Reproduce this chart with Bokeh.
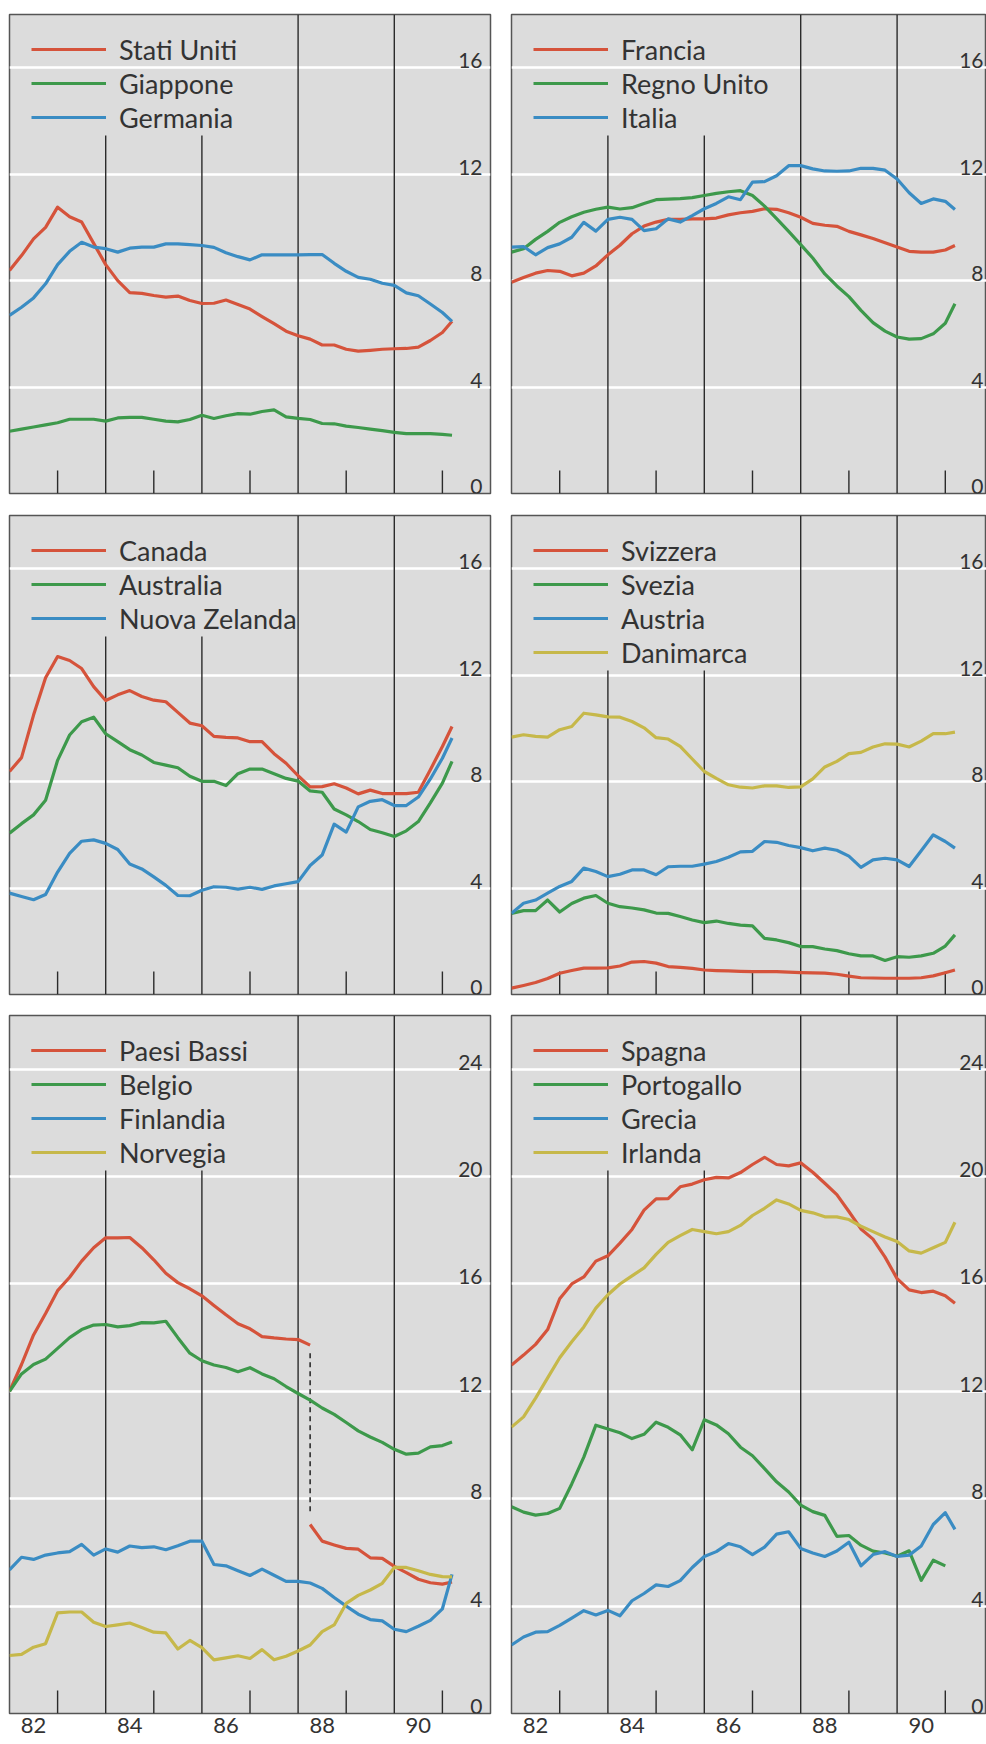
from bokeh.plotting import figure
from bokeh.layouts import column, row
from bokeh.models import Legend, LegendItem, FixedTicker
from bokeh.core.properties import value
from bokeh.embed import file_html
from bokeh.resources import INLINE

# ---------------- data (quarterly readings, 1982 Q1 .. 1991) ----------------
dates = [1982 + q / 4 for q in range(37)] + [1991.2]

stati_uniti = [8.38, 8.94, 9.57, 10.0, 10.76, 10.4, 10.2, 9.4, 8.6, 8.0, 7.55, 7.52, 7.44, 7.38, 7.42, 7.25,
               7.14, 7.15, 7.27, 7.1, 6.93, 6.65, 6.38, 6.1, 5.93, 5.8, 5.58, 5.58, 5.42, 5.35, 5.38, 5.42,
               5.44, 5.45, 5.5, 5.75, 6.05, 6.47]
giappone = [2.34, 2.42, 2.5, 2.58, 2.66, 2.79, 2.79, 2.79, 2.72, 2.84, 2.86, 2.86, 2.79, 2.72, 2.69, 2.78,
            2.94, 2.82, 2.92, 3.0, 2.98, 3.08, 3.14, 2.88, 2.82, 2.78, 2.63, 2.62, 2.53, 2.48, 2.42, 2.36,
            2.3, 2.25, 2.25, 2.25, 2.22, 2.19]
germania = [6.69, 7.0, 7.35, 7.88, 8.6, 9.1, 9.44, 9.26, 9.2, 9.07, 9.22, 9.26, 9.26, 9.38, 9.38, 9.35,
            9.32, 9.25, 9.05, 8.9, 8.78, 8.97, 8.97, 8.97, 8.97, 8.98, 8.98, 8.65, 8.35, 8.12, 8.05, 7.9,
            7.82, 7.54, 7.43, 7.12, 6.8, 6.47]

francia = [7.94, 8.12, 8.28, 8.38, 8.35, 8.18, 8.28, 8.55, 8.97, 9.33, 9.76, 10.05, 10.2, 10.3, 10.3, 10.32,
           10.32, 10.35, 10.47, 10.55, 10.6, 10.7, 10.68, 10.55, 10.38, 10.15, 10.08, 10.04, 9.85, 9.72, 9.58,
           9.42, 9.26, 9.1, 9.07, 9.07, 9.15, 9.32]
regno_unito = [9.07, 9.2, 9.55, 9.85, 10.19, 10.4, 10.57, 10.68, 10.76, 10.69, 10.74, 10.9, 11.04, 11.06,
               11.08, 11.12, 11.2, 11.28, 11.34, 11.38, 11.2, 10.8, 10.33, 9.85, 9.35, 8.85, 8.25, 7.8, 7.4,
               6.88, 6.42, 6.1, 5.88, 5.8, 5.82, 6.0, 6.4, 7.13]
italia = [9.26, 9.28, 8.97, 9.24, 9.38, 9.63, 10.19, 9.86, 10.3, 10.38, 10.3, 9.88, 9.95, 10.32, 10.2, 10.44,
          10.7, 10.9, 11.15, 11.04, 11.7, 11.72, 11.94, 12.32, 12.32, 12.2, 12.12, 12.11, 12.12, 12.22, 12.22,
          12.15, 11.82, 11.3, 10.9, 11.07, 10.98, 10.67]

canada = [8.38, 8.9, 10.5, 11.9, 12.7, 12.55, 12.25, 11.57, 11.05, 11.26, 11.42, 11.2, 11.06, 11.0, 10.6, 10.2,
          10.1, 9.7, 9.66, 9.64, 9.5, 9.5, 9.05, 8.69, 8.22, 7.8, 7.81, 7.92, 7.76, 7.54, 7.68, 7.55, 7.55,
          7.55, 7.6, 8.45, 9.32, 10.07]
australia = [6.06, 6.42, 6.75, 7.3, 8.8, 9.75, 10.25, 10.42, 9.8, 9.5, 9.2, 9.0, 8.72, 8.62, 8.52, 8.2, 8.01,
             8.01, 7.85, 8.3, 8.47, 8.47, 8.3, 8.12, 8.02, 7.65, 7.6, 6.97, 6.75, 6.5, 6.2, 6.08, 5.94, 6.15,
             6.5, 7.2, 7.94, 8.76]
nuova_zelanda = [3.81, 3.68, 3.56, 3.76, 4.6, 5.3, 5.76, 5.81, 5.68, 5.45, 4.9, 4.72, 4.42, 4.1, 3.72, 3.71,
                 3.92, 4.05, 4.03, 3.96, 4.03, 3.95, 4.08, 4.16, 4.24, 4.85, 5.24, 6.4, 6.1, 7.05, 7.26, 7.32,
                 7.1, 7.1, 7.42, 8.1, 8.88, 9.64]

svizzera = [0.24, 0.34, 0.45, 0.6, 0.8, 0.9, 0.99, 0.99, 1.0, 1.07, 1.22, 1.24, 1.18, 1.05, 1.02, 0.98, 0.92,
            0.9, 0.89, 0.87, 0.86, 0.86, 0.86, 0.84, 0.82, 0.81, 0.8, 0.76, 0.69, 0.63, 0.62, 0.61, 0.61, 0.61,
            0.63, 0.7, 0.82, 0.92]
svezia = [3.05, 3.15, 3.15, 3.55, 3.1, 3.42, 3.62, 3.72, 3.43, 3.3, 3.25, 3.18, 3.06, 3.05, 2.93, 2.8, 2.7,
          2.76, 2.67, 2.61, 2.58, 2.11, 2.05, 1.95, 1.8, 1.8, 1.71, 1.65, 1.53, 1.45, 1.45, 1.28, 1.42, 1.4,
          1.45, 1.55, 1.82, 2.24]
austria = [3.05, 3.43, 3.55, 3.81, 4.06, 4.25, 4.75, 4.62, 4.43, 4.52, 4.68, 4.68, 4.5, 4.8, 4.82, 4.82, 4.9,
           5.0, 5.16, 5.36, 5.38, 5.75, 5.72, 5.6, 5.52, 5.4, 5.5, 5.42, 5.2, 4.78, 5.06, 5.12, 5.06, 4.81, 5.4,
           6.0, 5.75, 5.5]
danimarca = [9.67, 9.76, 9.7, 9.67, 9.95, 10.07, 10.57, 10.51, 10.43, 10.42, 10.26, 10.02, 9.65, 9.6, 9.32,
             8.85, 8.38, 8.12, 7.88, 7.79, 7.76, 7.84, 7.84, 7.78, 7.8, 8.1, 8.55, 8.76, 9.05, 9.1, 9.3, 9.42,
             9.41, 9.3, 9.52, 9.8, 9.8, 9.86]

# Paesi Bassi: series break in 1988 (old definition, then new definition)
paesi_bassi_old = [12.0, 13.0, 14.1, 14.9, 15.75, 16.25, 16.85, 17.35, 17.72, 17.72, 17.73, 17.35, 16.9, 16.4,
                   16.05, 15.82, 15.56, 15.2, 14.85, 14.52, 14.33, 14.04, 13.99, 13.95, 13.93, 13.72]
paesi_bassi_new = [7.04, 6.42, 6.28, 6.15, 6.12, 5.8, 5.78, 5.48, 5.25, 5.0, 4.87, 4.82, 4.9]
belgio = [12.0, 12.65, 13.0, 13.2, 13.6, 14.0, 14.3, 14.47, 14.49, 14.4, 14.45, 14.56, 14.55, 14.61, 14.0,
          13.42, 13.14, 12.98, 12.89, 12.73, 12.88, 12.65, 12.47, 12.18, 11.92, 11.67, 11.38, 11.14, 10.84,
          10.53, 10.3, 10.1, 9.84, 9.66, 9.7, 9.93, 9.98, 10.11]
finlandia = [5.35, 5.82, 5.74, 5.9, 5.98, 6.03, 6.3, 5.9, 6.13, 6.01, 6.24, 6.18, 6.21, 6.1, 6.25, 6.42, 6.42,
             5.55, 5.5, 5.32, 5.14, 5.38, 5.15, 4.92, 4.92, 4.86, 4.66, 4.32, 4.0, 3.7, 3.5, 3.45, 3.14, 3.05,
             3.25, 3.47, 3.9, 5.18]
norvegia = [2.16, 2.2, 2.47, 2.6, 3.75, 3.78, 3.78, 3.4, 3.24, 3.3, 3.37, 3.2, 3.03, 3.0, 2.4, 2.72, 2.45, 2.0,
            2.07, 2.15, 2.05, 2.38, 2.0, 2.13, 2.33, 2.55, 3.05, 3.3, 4.1, 4.4, 4.6, 4.85, 5.44, 5.44, 5.32,
            5.18, 5.1, 5.09]

spagna = [12.98, 13.35, 13.75, 14.3, 15.45, 16.0, 16.26, 16.85, 17.05, 17.52, 18.03, 18.75, 19.17, 19.18,
          19.62, 19.72, 19.88, 19.97, 19.95, 20.15, 20.45, 20.72, 20.45, 20.4, 20.51, 20.16, 19.75, 19.33, 18.7,
          18.05, 17.67, 17.0, 16.2, 15.78, 15.68, 15.73, 15.56, 15.28]
portogallo = [7.7, 7.5, 7.39, 7.45, 7.64, 8.55, 9.55, 10.74, 10.6, 10.46, 10.24, 10.4, 10.85, 10.66, 10.38,
              9.82, 10.94, 10.75, 10.42, 9.92, 9.6, 9.12, 8.63, 8.25, 7.76, 7.52, 7.38, 6.6, 6.63, 6.27, 6.05,
              5.98, 5.86, 6.06, 4.96, 5.71, 5.5]
grecia = [2.55, 2.85, 3.03, 3.05, 3.28, 3.55, 3.83, 3.67, 3.84, 3.64, 4.2, 4.47, 4.79, 4.73, 4.95, 5.44, 5.85,
          6.03, 6.33, 6.21, 5.92, 6.2, 6.68, 6.77, 6.15, 5.98, 5.85, 6.05, 6.38, 5.5, 5.92, 6.03, 5.85, 5.9,
          6.24, 7.04, 7.48, 6.86]
irlanda = [10.67, 11.05, 11.75, 12.5, 13.25, 13.85, 14.4, 15.1, 15.6, 16.0, 16.3, 16.6, 17.1, 17.55, 17.8,
           18.03, 17.95, 17.87, 17.95, 18.18, 18.55, 18.82, 19.13, 18.98, 18.74, 18.65, 18.5, 18.5, 18.4, 18.15,
           17.95, 17.75, 17.58, 17.23, 17.15, 17.35, 17.55, 18.3]

year_labels = ["82", "84", "86", "88", "90"]
divider_years = [1984, 1986, 1988, 1990]
minor_tick_years = [1983, 1985, 1987, 1989, 1991]
ticks_small = [0, 4, 8, 12, 16]
ticks_large = [0, 4, 8, 12, 16, 20, 24]

# ---------------- styling ----------------
RED = "#d5533b"
GREEN = "#3d994b"
BLUE = "#3a8cc3"
YELLOW = "#c6b84a"
BG = "#dcdcdc"
INK = "#2b2b2b"
TXT = "#333333"
FONT = "Lato"

PX_PER_YEAR = 48.2


def panel(series, left_col, y_end, y_ticks, frame_h, top_b, bot_b, x_labels=False, break_series=None):
    fw = 481 if left_col else 475
    x_end = 1992 if left_col else 1982 + fw / PX_PER_YEAR
    p = figure(x_range=(1982, x_end), y_range=(0, y_end), frame_width=fw, frame_height=frame_h,
               min_border_left=9 if left_col else 11, min_border_right=10 if left_col else 0,
               min_border_top=top_b, min_border_bottom=bot_b,
               output_backend="svg", toolbar_location=None,
               x_axis_location="below" if x_labels else None, y_axis_location=None,
               background_fill_color=BG, border_fill_color="white",
               outline_line_color="#555555", outline_line_width=1.5)
    p.xgrid.visible = False
    p.ygrid.ticker = FixedTicker(ticks=[t for t in y_ticks if t > 0])
    p.ygrid.grid_line_color = "white"
    p.ygrid.grid_line_width = 2.5

    pxu = frame_h / y_end
    n = len(series)
    legend_top = 18
    row_h = 34
    clear = legend_top + n * row_h + 1  # where the inner dividers start (below the legend)

    # vertical dividers (84, 86 stop below the legend; 88, 90 full height)
    tops = [y_end - clear / pxu if yr < 1987 else y_end for yr in divider_years]
    p.segment(x0=divider_years, y0=[0] * len(divider_years), x1=divider_years, y1=tops,
              line_color=INK, line_width=1.4)
    # small inner ticks at odd years
    p.segment(x0=minor_tick_years, y0=[0] * len(minor_tick_years), x1=minor_tick_years,
              y1=[23 / pxu] * len(minor_tick_years), line_color=INK, line_width=1.4)

    items = []
    for name, vals, col in series:
        r = p.line(dates[:len(vals)], vals, line_color=col, line_width=3.2, line_join="round")
        rs = [r]
        if break_series is not None and name == break_series[0]:
            new_vals = break_series[1]
            start = len(vals) - 1
            r2 = p.line(dates[start:start + len(new_vals)], new_vals, line_color=col, line_width=3.2,
                        line_join="round")
            rs.append(r2)
            xb = dates[start]
            p.segment(x0=[xb], y0=[vals[-1] - 0.3], x1=[xb], y1=[new_vals[0] + 0.4],
                      line_color=INK, line_width=1.6, line_dash="5 4")
        items.append(LegendItem(label=name, renderers=rs))

    legend = Legend(items=items, location=(22, frame_h - legend_top - n * row_h),
                    glyph_width=75, glyph_height=row_h, label_height=row_h, spacing=0, padding=0, margin=0,
                    label_standoff=13, label_text_font=FONT, label_text_font_size="27px",
                    label_text_color=TXT, background_fill_alpha=0, border_line_alpha=0)
    p.add_layout(legend)

    # value labels inside the panel, on the right, above each gridline
    x_off = -8 if left_col else -3
    p.text(x=[x_end] * len(y_ticks), y=y_ticks, text=[str(t) for t in y_ticks],
           x_offset=x_off, y_offset=-7, text_align="right", text_baseline="alphabetic",
           text_font=value(FONT), text_font_size="21px", text_color=TXT)

    if x_labels:
        ax = p.xaxis[0]
        label_pos = [int("19" + s) + 0.5 for s in year_labels]
        ax.ticker = FixedTicker(ticks=label_pos)
        ax.major_label_overrides = {pos: s for pos, s in zip(label_pos, year_labels)}
        ax.major_tick_in = 0
        ax.major_tick_out = 0
        ax.minor_tick_in = 0
        ax.minor_tick_out = 0
        ax.axis_line_color = None
        ax.major_label_standoff = 4
        ax.major_label_text_font = FONT
        ax.major_label_text_font_size = "22px"
        ax.major_label_text_color = TXT
    return p


p1 = panel([("Stati Uniti", stati_uniti, RED), ("Giappone", giappone, GREEN), ("Germania", germania, BLUE)],
           True, 18, ticks_small, 479, 14, 11)
p2 = panel([("Francia", francia, RED), ("Regno Unito", regno_unito, GREEN), ("Italia", italia, BLUE)],
           False, 18, ticks_small, 479, 14, 11)
p3 = panel([("Canada", canada, RED), ("Australia", australia, GREEN), ("Nuova Zelanda", nuova_zelanda, BLUE)],
           True, 18, ticks_small, 479, 11, 10)
p4 = panel([("Svizzera", svizzera, RED), ("Svezia", svezia, GREEN), ("Austria", austria, BLUE),
            ("Danimarca", danimarca, YELLOW)],
           False, 18, ticks_small, 479, 11, 10)
p5 = panel([("Paesi Bassi", paesi_bassi_old, RED), ("Belgio", belgio, GREEN), ("Finlandia", finlandia, BLUE),
            ("Norvegia", norvegia, YELLOW)],
           True, 26, ticks_large, 698, 11, 30, x_labels=True, break_series=("Paesi Bassi", paesi_bassi_new))
p6 = panel([("Spagna", spagna, RED), ("Portogallo", portogallo, GREEN), ("Grecia", grecia, BLUE),
            ("Irlanda", irlanda, YELLOW)],
           False, 26, ticks_large, 698, 11, 30, x_labels=True)

layout = column(row(p1, p2), row(p3, p4), row(p5, p6))

open("out.html", "w").write(file_html(layout, INLINE))
